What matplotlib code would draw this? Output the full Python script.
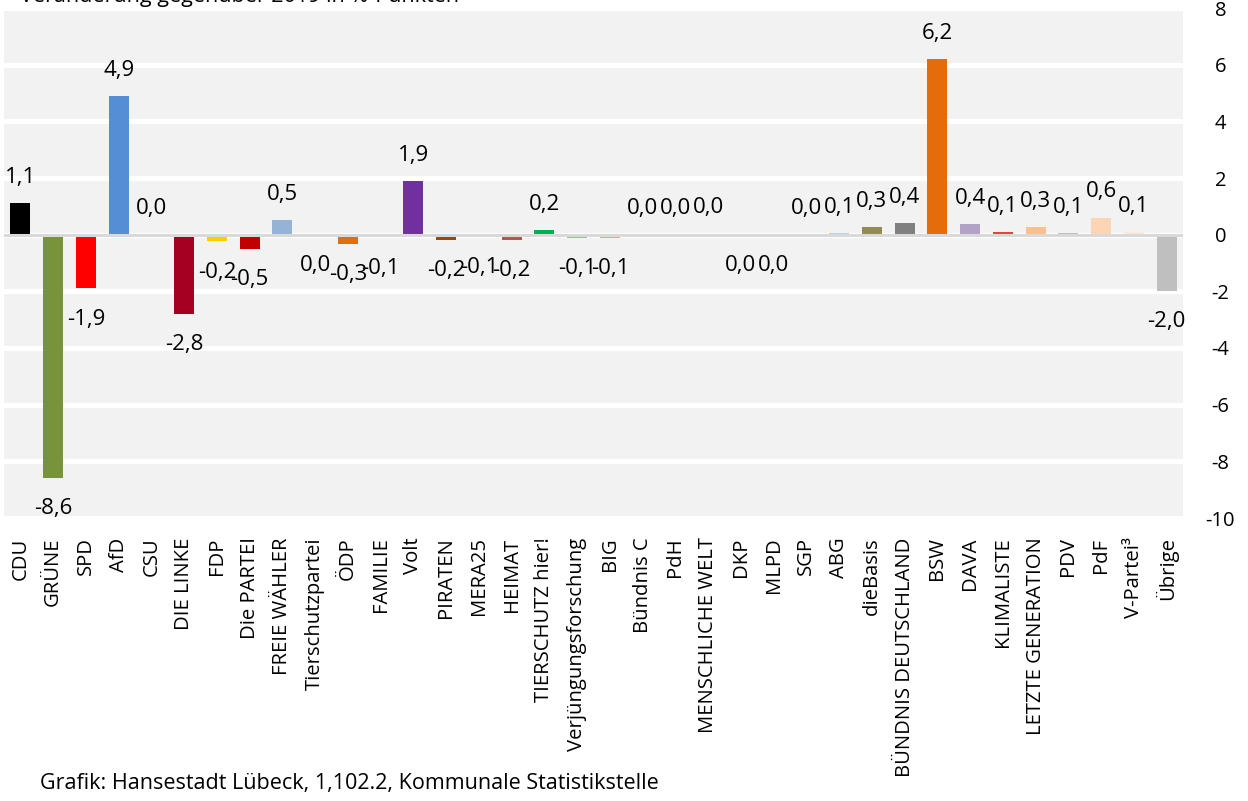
import matplotlib
matplotlib.use("Agg")
import matplotlib.pyplot as plt
import numpy as np

plt.rcParams['font.family'] = ['Open Sans', 'DejaVu Sans']

parties = ["CDU", "GRÜNE", "SPD", "AfD", "CSU", "DIE LINKE", "FDP", "Die PARTEI",
           "FREIE WÄHLER", "Tierschutzpartei", "ÖDP", "FAMILIE", "Volt", "PIRATEN",
           "MERA25", "HEIMAT", "TIERSCHUTZ hier!", "Verjüngungsforschung", "BIG",
           "Bündnis C", "PdH", "MENSCHLICHE WELT", "DKP", "MLPD", "SGP", "ABG",
           "dieBasis", "BÜNDNIS DEUTSCHLAND", "BSW", "DAVA", "KLIMALISTE",
           "LETZTE GENERATION", "PDV", "PdF", "V-Partei³", "Übrige"]

changes = [1.1, -8.6, -1.9, 4.9, 0.0, -2.8, -0.24, -0.5,
           0.5, -0.01, -0.33, -0.1, 1.9, -0.2,
           -0.07, -0.18, 0.16, -0.13, -0.12,
           0.01, 0.01, 0.04, -0.01, -0.01, 0.01, 0.05,
           0.26, 0.4, 6.2, 0.36, 0.1,
           0.27, 0.06, 0.6, 0.1, -2.0]

colors = ["#000000", "#77933c", "#ff0000", "#558ed5", "#0070c0", "#a50021", "#ffcc00", "#c00000",
          "#95b3d7", "#4f6228", "#e46c0a", "#376092", "#7030a0", "#984807",
          "#bfbfbf", "#c0504d", "#00b050", "#95b3d7", "#e6a09e",
          "#f79646", "#8064a2", "#1f3864", "#c00000", "#c00000", "#7f7f7f", "#fac090",
          "#948a54", "#808080", "#e46c0a", "#b3a2c7", "#e84040",
          "#fac090", "#bfbfbf", "#fcd5b5", "#fde9d9", "#bfbfbf"]

yticks = [-10, -8, -6, -4, -2, 0, 2, 4, 6, 8]

W, H = 1248, 801
fig = plt.figure(figsize=(W / 100, H / 100), dpi=100)
ax = fig.add_axes([4 / W, 1 - 518 / H, (1183 - 4) / W, (518 - 8) / H])
ax.set_facecolor("#f2f2f2")

x = np.arange(len(parties))
ax.bar(x, changes, width=0.61, color=colors, zorder=3)
ax.axhline(0, color="#d9d9d9", lw=2.2, zorder=4)

ax.set_xlim(-0.5, len(parties) - 0.5)
ax.set_ylim(-10, 8)
ax.set_yticks(yticks)
ax.set_yticklabels([str(v) for v in yticks])
ax.yaxis.tick_right()
ax.tick_params(axis='y', length=0, pad=27, labelsize=14.5)
for lab in ax.get_yticklabels():
    lab.set_horizontalalignment('center')
ax.grid(axis='y', color='white', lw=3.8, zorder=1)
ax.grid(axis='x', visible=False)
ax.set_axisbelow(True)

ax.set_xticks(x)
ax.set_xticklabels(parties, rotation=90, fontsize=14.6, va='top', ha='center')
ax.tick_params(axis='x', length=0, pad=14)

for s in ax.spines.values():
    s.set_visible(False)

for xi, v in zip(x, changes):
    txt = f"{abs(v):.1f}".replace(".", ",")
    if round(v, 1) < 0:
        txt = "-" + txt
    off = 18.5 if v >= 0 else -22
    ax.annotate(txt, (xi, v), xytext=(0, off), textcoords='offset points',
                ha='center', va='center', fontsize=16, zorder=5)

fig.text(20 / W, 1 - 2 / H, "Veränderung gegenüber 2019 in %-Punkten", fontsize=15.5,
         ha='left', va='baseline')
fig.text(40 / W, 1 - 783 / H, "Grafik: Hansestadt Lübeck, 1,102.2, Kommunale Statistikstelle",
         fontsize=15.5, ha='left', va='center')

fig.savefig("out.png", dpi=100)
